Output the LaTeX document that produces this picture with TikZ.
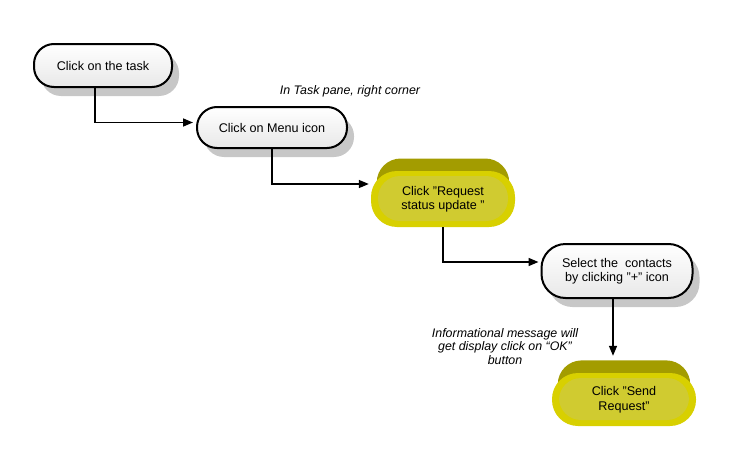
\documentclass[tikz,border=0pt]{standalone}
\usepackage{fontspec}
\setmainfont{Liberation Sans}
\usetikzlibrary{arrows.meta,shadows}
\definecolor{ytop}{HTML}{A39C00}
\definecolor{yface}{HTML}{D8D000}
\definecolor{yinner}{HTML}{D0CB30}
\begin{document}
\begin{tikzpicture}[x=1pt,y=-1pt,
  wbox/.style={draw=black, line width=2pt, rounded corners=20pt,
    top color=white, bottom color=black!9, align=center, inner sep=0pt,
    font=\fontsize{12.6}{14.5}\selectfont,
    drop shadow={shadow xshift=7pt, shadow yshift=-9pt, fill=black!22, opacity=1}},
  ybox/.style={fill=yface, rounded corners=26pt, align=center, inner sep=0pt,
    font=\fontsize{12.6}{14.5}\selectfont,
    general shadow={shadow xshift=0pt, shadow yshift=16pt, shadow scale=0.92, fill=ytop},
    path picture={\fill[yinner, rounded corners=22pt]
      ([xshift=7pt,yshift=-5pt]path picture bounding box.north west) rectangle
      ([xshift=-7pt,yshift=6pt]path picture bounding box.south east);}},
  lbl/.style={align=center, inner sep=0pt, font=\itshape\fontsize{12.4}{13.5}\selectfont},
  conn/.style={line width=1.5pt, -{Triangle[length=10pt,width=8pt]}}]
\useasboundingbox (0,0) rectangle (750,471);

\node[wbox, minimum width=138pt, minimum height=43pt] (n1) at (103,65.5) {Click on the task};
\node[wbox, minimum width=150pt, minimum height=41pt] (n2) at (272,127.5) {Click on Menu icon};
\node[ybox, minimum width=144pt, minimum height=56pt] (n3) at (443,199) {Click "Request\\status update "};
\node[wbox, minimum width=151pt, minimum height=54pt, rounded corners=24pt] (n4) at (617,271) {Select the~ contacts\\by clicking "+" icon};
\node[ybox, minimum width=144pt, minimum height=53pt] (n5) at (624,399.5) {Click "Send\\Request"};

\node[lbl] (l1) at (350,91) {In Task pane, right corner};
\node[lbl] (l2) at (505,346.5) {Informational message will\\get display click on “OK”\\button};

\coordinate (s4) at ([xshift=-4pt]n4.south);
\coordinate (t5) at ([yshift=17pt]n5.north);
\draw[conn] ([xshift=-8pt]n1.south) |- ([yshift=5pt,xshift=-3pt]n2.west);
\draw[conn] (n2.south) |- ([yshift=15pt,xshift=-2pt]n3.west);
\draw[conn] (n3.south) |- ([yshift=9pt,xshift=-2pt]n4.west);
\draw[conn] (s4) -- (s4 |- t5);
\end{tikzpicture}
\end{document}
